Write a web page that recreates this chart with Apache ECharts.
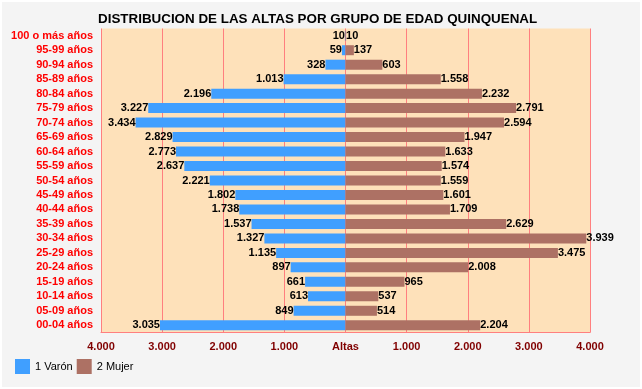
<!DOCTYPE html>
<html>
<head>
<meta charset="utf-8">
<script src="https://cdn.jsdelivr.net/npm/echarts@6/dist/echarts.min.js"></script>
<style>
html,body{margin:0;padding:0;background:#ffffff;}
#chart{width:642px;height:389px;}
</style>
</head>
<body>
<div id="chart"></div>
<script>
const categories = ['100 o más años','95-99 años','90-94 años','85-89 años','80-84 años','75-79 años','70-74 años','65-69 años','60-64 años','55-59 años','50-54 años','45-49 años','40-44 años','35-39 años','30-34 años','25-29 años','20-24 años','15-19 años','10-14 años','05-09 años','00-04 años'];
const varon = [10,59,328,1013,2196,3227,3434,2829,2773,2637,2221,1802,1738,1537,1327,1135,897,661,613,849,3035];
const mujer = [10,137,603,1558,2232,2791,2594,1947,1633,1574,1559,1601,1709,2629,3939,3475,2008,965,537,514,2204];
const seriesNames = ['1 Varón','2 Mujer'];
const axisTicks = [-4000,-3000,-2000,-1000,0,1000,2000,3000,4000];

function fmt(v){
  v = Math.abs(Math.round(v));
  return String(v).replace(/\B(?=(\d{3})+(?!\d))/g, '.');
}
const FONT = 'Liberation Sans, Arial, sans-serif';
const chart = echarts.init(document.getElementById('chart'));
chart.setOption({
  backgroundColor: '#f4f4f4',
  animation: false,
  title: {
    text: 'DISTRIBUCION DE LAS ALTAS POR GRUPO DE EDAD QUINQUENAL',
    left: 98, top: 13, padding: 0,
    textStyle: {fontFamily: FONT, fontSize: 13.4, fontWeight: 'bold', color: '#000'}
  },
  legend: {
    left: 15, top: 359, padding: 0, itemWidth: 15, itemHeight: 15, itemGap: 4, icon: 'rect',
    data: seriesNames,
    textStyle: {fontFamily: FONT, fontSize: 11, color: '#000'}
  },
  grid: {left: 101, right: 52, top: 28.5, bottom: 56.5, show: true, backgroundColor: '#fee1ba', borderWidth: 0},
  xAxis: {
    type: 'value', min: axisTicks[0], max: axisTicks[axisTicks.length-1], interval: 1000,
    axisLine: {show: true, lineStyle: {color: '#ff7f7f', width: 1}},
    axisTick: {show: false},
    splitLine: {show: true, lineStyle: {color: '#ff7f7f', width: 1}},
    axisLabel: {
      margin: 9, fontFamily: FONT, fontSize: 11, fontWeight: 'bold', color: '#800000',
      formatter: v => v === 0 ? 'Altas' : fmt(v)
    }
  },
  yAxis: {
    type: 'category', data: categories, inverse: true,
    axisLine: {show: false}, axisTick: {show: false},
    axisLabel: {margin: 8, fontFamily: FONT, fontSize: 11, fontWeight: 'bold', color: '#ff0000'}
  },
  graphic: [{
    type: 'rect', silent: true, z: 100,
    shape: {x: 0, y: 0, width: 642, height: 389},
    style: {fill: 'none', stroke: '#ffffff', lineWidth: 4}
  }],
  series: [
    {
      name: seriesNames[0], type: 'bar', stack: 'p', barWidth: 10,
      data: varon.map(v => -v),
      itemStyle: {color: '#409fff'},
      label: {show: true, position: 'left', distance: 0, fontFamily: FONT, fontSize: 11, fontWeight: 'bold', color: '#000',
        formatter: p => fmt(p.value)}
    },
    {
      name: seriesNames[1], type: 'bar', stack: 'p', barWidth: 10,
      data: mujer,
      itemStyle: {color: '#ad7164'},
      label: {show: true, position: 'right', distance: 0, fontFamily: FONT, fontSize: 11, fontWeight: 'bold', color: '#000',
        formatter: p => fmt(p.value)}
    }
  ]
});
</script>
</body>
</html>
